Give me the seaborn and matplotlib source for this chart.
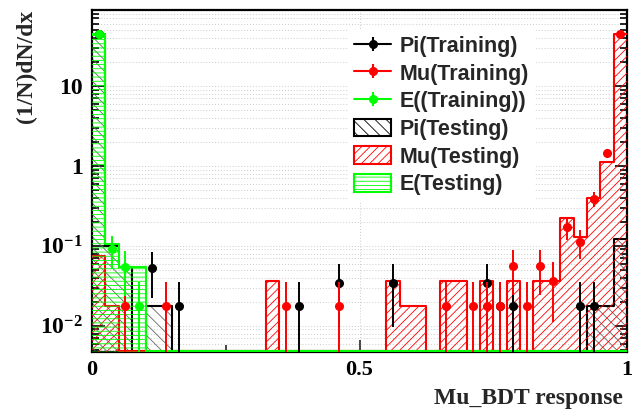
import numpy as np
import matplotlib
matplotlib.use("Agg")
import matplotlib.pyplot as plt
import seaborn as sns
from matplotlib.lines import Line2D
from matplotlib.patches import Patch
from matplotlib.legend_handler import HandlerTuple
from matplotlib.ticker import FixedLocator, FixedFormatter, LogLocator, NullFormatter

# ---------------- data (normalized 1/N dN/dx, 40 bins over [0, 1]) ----------------
N_BINS = 40
UNIT = 0.0178  # height of a single entry

pi_test_bins = [0, 1, 2, 4, 5, 37, 38, 39]
pi_test_vals = [44.7, 0.10, 0.055, 0.0178, 0.0178, 0.0178, 0.0178, 0.122]
mu_test_bins = [0, 1, 13, 22, 23, 24, 26, 27, 29, 31, 33, 34, 35, 36, 37, 38, 39]
mu_test_vals = [0.075, 0.0178, 0.0365, 0.0365, 0.0178, 0.0178, 0.0365, 0.0365,
                0.0365, 0.0365, 0.0365, 0.0365, 0.226, 0.13, 0.40, 1.12, 44.7]
e_test_bins = [0, 1, 2, 3]
e_test_vals = [44.7, 0.105, 0.055, 0.055]

pi_train_bins = [0, 4, 6, 15, 18, 22, 29, 30, 31, 36, 37]
pi_train_vals = [44.0, 0.053, 0.0178, 0.0178, 0.0345, 0.0345, 0.0345, 0.0178,
                 0.0178, 0.0178, 0.0178]
mu_train_bins = [2, 5, 14, 18, 26, 28, 29, 30, 31, 32, 33, 34, 35, 36, 37, 38, 39]
mu_train_vals = [0.0178, 0.0178, 0.0178, 0.0178, 0.0178, 0.0178, 0.0178, 0.0178,
                 0.056, 0.0178, 0.056, 0.0365, 0.173, 0.113, 0.387, 1.45, 44.0]
e_train_bins = [0, 1, 2, 3]
e_train_vals = [44.0, 0.092, 0.055, 0.0178]

x_ticks = [0.0, 0.5, 1.0]
x_tick_labels = ["0", "0.5", "1"]
y_ticks = [0.01, 0.1, 1, 10]
y_tick_labels = [r"$\mathbf{10^{-2}}$", r"$\mathbf{10^{-1}}$", "1", "10"]

labels_train = ["Pi(Training)", "Mu(Training)", "E((Training))"]
labels_test = ["Pi(Testing)", "Mu(Testing)", "E(Testing)"]

# ---------------- style ----------------
sns.set_theme(style="white")
plt.rcParams["font.family"] = ["Liberation Sans", "DejaVu Sans"]
plt.rcParams["mathtext.fontset"] = "custom"
plt.rcParams["mathtext.rm"] = "Liberation Serif:bold"
plt.rcParams["mathtext.bf"] = "Liberation Serif:bold"
plt.rcParams["mathtext.it"] = "Liberation Serif:bold"
plt.rcParams["hatch.linewidth"] = 0.6

BLACK, RED, GREEN = "#000000", "#ff0000", "#00ff00"
YMIN, YMAX = 0.0047, 89.0
FLOOR = YMIN * 1.04

edges = np.linspace(0.0, 1.0, N_BINS + 1)
centers = 0.5 * (edges[:-1] + edges[1:])


def full(bins, vals):
    a = np.zeros(N_BINS)
    a[bins] = vals
    return a


fig = plt.figure(figsize=(6.44, 4.11), dpi=100)
ax = fig.add_axes([92 / 644, 1 - 352 / 411, 535 / 644, 342 / 411])
ax.set_yscale("log")

# grid
ax.grid(True, which="both", axis="y", color="#cccccc", linestyle=(0, (1, 2)), linewidth=0.7)
ax.grid(True, which="major", axis="x", color="#cccccc", linestyle=(0, (1, 2)), linewidth=0.7)
ax.set_axisbelow(True)


def draw_hist(bins, vals, color, hatch, hatch_color, z):
    h = np.maximum(full(bins, vals), FLOOR)
    sns.histplot(x=centers, weights=h, bins=N_BINS, binrange=(0, 1), element="step",
                 fill=True, color=hatch_color, facecolor="none", edgecolor=hatch_color,
                 hatch=hatch, linewidth=0, ax=ax, zorder=z)
    sns.histplot(x=centers, weights=h, bins=N_BINS, binrange=(0, 1), element="step",
                 fill=False, color=color, linewidth=1.5, ax=ax, zorder=z + 0.5)


def draw_points(bins, vals, color, z):
    x = centers[bins]
    v = np.asarray(vals)
    err = np.sqrt(v * UNIT)
    lo = np.minimum(err, v - 1e-6)
    ax.errorbar(x, v, yerr=[lo, err], fmt="o", color=color, ms=5.5,
                elinewidth=1.4, capsize=0, zorder=z)


draw_hist(pi_test_bins, pi_test_vals, BLACK, "\\\\\\", "#666666", 2)
draw_hist(mu_test_bins, mu_test_vals, RED, "////", RED, 3)
draw_hist(e_test_bins, e_test_vals, GREEN, "----", GREEN, 4)

draw_points(pi_train_bins, pi_train_vals, BLACK, 6)
draw_points(mu_train_bins, mu_train_vals, RED, 7)
draw_points(e_train_bins, e_train_vals, GREEN, 8)

ax.set_xlim(0, 1)
ax.set_ylim(YMIN, YMAX)
ax.set_xlabel("")
ax.set_ylabel("")

# ticks
ax.xaxis.set_major_locator(FixedLocator(x_ticks))
ax.xaxis.set_major_formatter(FixedFormatter(x_tick_labels))
ax.xaxis.set_minor_locator(FixedLocator([0.25, 0.75]))
ax.yaxis.set_major_locator(FixedLocator(y_ticks))
ax.yaxis.set_major_formatter(FixedFormatter(y_tick_labels))
ax.yaxis.set_minor_locator(LogLocator(base=10, subs=np.arange(2, 10)))
ax.yaxis.set_minor_formatter(NullFormatter())
ax.tick_params(axis="y", which="both", direction="in", left=True, right=True, width=1.2, colors="black")
ax.tick_params(axis="y", which="major", length=9, pad=6.5)
ax.tick_params(axis="y", which="minor", length=5)
ax.tick_params(axis="x", which="both", direction="in", bottom=True, top=False, width=1.2)
ax.tick_params(axis="x", which="major", length=9, pad=5.5)
ax.tick_params(axis="x", which="minor", length=5)
for lab in ax.get_xticklabels():
    lab.set_fontfamily("Liberation Serif")
    lab.set_fontweight("bold")
    lab.set_fontsize(16)
    lab.set_color("black")
for lab in ax.get_yticklabels():
    lab.set_fontfamily("Liberation Serif")
    lab.set_fontweight("bold")
    lab.set_fontsize(17)
    lab.set_color("black")
for s in ax.spines.values():
    s.set_linewidth(1.6)
    s.set_color("black")

# axis titles
fig.text(26 / 644, 1 - 10 / 411, "(1/N)dN/dx", rotation=90, ha="center", va="top",
         fontfamily="Liberation Serif", fontweight="bold", fontsize=17)
fig.text(623 / 644, 1 - 398 / 411, "Mu_BDT response", ha="right", va="center",
         fontfamily="Liberation Serif", fontweight="bold", fontsize=17)

# legend
handles = []
for c in (BLACK, RED, GREEN):
    lh = Line2D([0], [0], color=c, lw=1.5, marker="o", ms=5.5)
    lv = Line2D([0], [0], color=c, lw=0, marker="|", ms=10, mew=1.5)
    handles.append((lh, lv))
handles.append(Patch(facecolor="white", edgecolor=BLACK, hatch="\\\\\\", lw=1.5))
handles.append(Patch(facecolor="white", edgecolor=RED, hatch="////", lw=1.5))
handles.append(Patch(facecolor="white", edgecolor=GREEN, hatch="----", lw=1.5))
leg = ax.legend(handles, labels_train + labels_test, loc="upper left",
                bbox_to_anchor=(0.478, 0.944), frameon=True, fancybox=False,
                facecolor="white", edgecolor="none", framealpha=1,
                handler_map={tuple: HandlerTuple(ndivide=1, pad=0)},
                prop={"family": "Liberation Sans", "weight": "bold", "size": 15.5},
                handlelength=1.72, handleheight=0.88, handletextpad=0.38,
                labelspacing=0.3, borderpad=0.3, borderaxespad=0)
leg.set_zorder(20)

fig.savefig("out.png", dpi=100)
